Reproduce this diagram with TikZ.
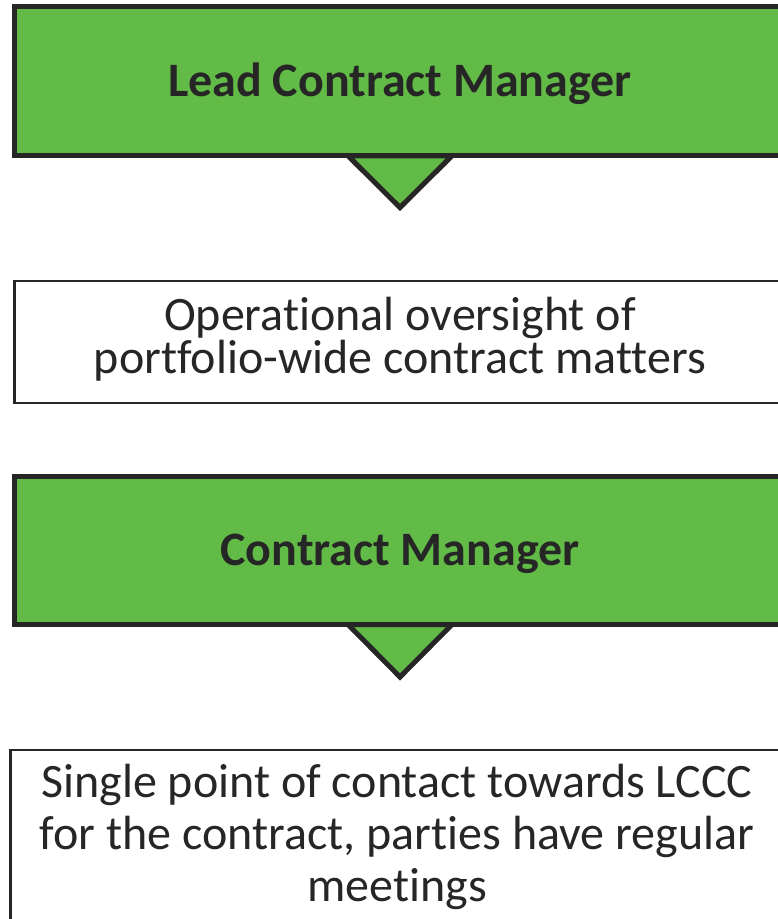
\documentclass[tikz,border=0pt]{standalone}
\usepackage{fontspec}
\setmainfont[Ligatures={NoCommon}]{Carlito}
\definecolor{boxgreen}{HTML}{62BB46}
\definecolor{ink}{HTML}{262626}
\begin{document}
\begin{tikzpicture}[x=1pt,y=-1pt,
  greenbox/.style={fill=boxgreen,draw=ink,line width=5pt},
  pointer/.style={fill=boxgreen,draw=ink,line width=5pt,line join=miter},
  whitebox/.style={fill=white,draw=ink,line width=2.3pt},
  titletext/.style={text=ink,font=\bfseries\fontsize{48}{52}\selectfont,inner sep=0pt,anchor=base},
  bodytext/.style={text=ink,align=center,inner sep=0pt,anchor=base}]
\useasboundingbox (0,0) rectangle (778,919);
\clip (0,0) rectangle (778,919);
% top green box with pointer
\draw[pointer] (348,155.8) -- (400,207.5) -- (452,155.8) -- cycle;
\draw[greenbox] (14.5,6.5) rectangle (800,155.8);
\node[titletext] (lead) at (400,96) {Lead Contract Manager};
% first white box
\draw[whitebox] (14.5,281) rectangle (800,403);
\node[bodytext,font=\fontsize{48}{41}\selectfont] (oversight) at (400,373) {Operational oversight of\\portfolio-wide contract matters};
% second green box with pointer
\draw[pointer] (348,624.5) -- (400,677) -- (452,624.5) -- cycle;
\draw[greenbox] (14.5,476) rectangle (800,624.5);
\node[titletext] (cm) at (400,565) {Contract Manager};
% bottom white box
\draw[whitebox] (10.5,750.3) rectangle (800,950);
\node[bodytext,font=\fontsize{48}{52}\selectfont] (contact) at (397,901) {Single point of contact towards LCCC\\for the contract, parties have regular\\meetings};
\end{tikzpicture}
\end{document}
